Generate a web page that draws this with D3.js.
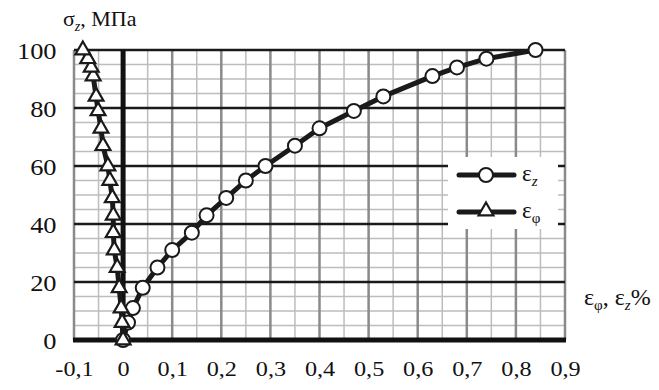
<!DOCTYPE html>
<html>
<head>
<meta charset="utf-8">
<script src="https://cdn.jsdelivr.net/npm/d3@7"></script>
<style>
  body { margin: 0; background: #fff; }
  svg text { font-family: 'Liberation Serif', 'Times New Roman', Times, 'DejaVu Serif', serif; fill: #111; }
</style>
</head>
<body>
<div id="chart"></div>
<script>
// stress levels, MPa (same for both curves)
const stress = [0, 6, 11, 18, 25, 31, 37, 43, 49, 55, 60, 67, 73, 79, 84, 91, 94, 97, 100];
// axial strain eps_z, %
const epsZ = [0, 0.01, 0.02, 0.04, 0.07, 0.10, 0.14, 0.17, 0.21, 0.25, 0.29, 0.35, 0.40, 0.47, 0.53, 0.63, 0.68, 0.74, 0.84];
// hoop strain eps_phi, %
const epsPhi = [0, -0.002, -0.004, -0.008, -0.012, -0.018, -0.020, -0.020, -0.022, -0.027, -0.031, -0.041, -0.045, -0.051, -0.055, -0.061, -0.065, -0.072, -0.082];

const xTicks = [-0.1, 0, 0.1, 0.2, 0.3, 0.4, 0.5, 0.6, 0.7, 0.8, 0.9];
const xTickLabels = ['-0,1', '0', '0,1', '0,2', '0,3', '0,4', '0,5', '0,6', '0,7', '0,8', '0,9'];
const yTicks = [0, 20, 40, 60, 80, 100];

const width = 659, height = 390;
const margin = { top: 50, right: 94, bottom: 50, left: 74 };
const serif = "'Liberation Serif', 'Times New Roman', Times, 'DejaVu Serif', serif";

const svg = d3.select('#chart').append('svg')
    .attr('width', width)
    .attr('height', height);

const x = d3.scaleLinear().domain([-0.1, 0.9]).range([margin.left, width - margin.right]);
const y = d3.scaleLinear().domain([0, 100]).range([height - margin.bottom, margin.top]);

const grid = svg.append('g');

// minor grid lines
grid.selectAll('.vminor')
    .data(d3.range(-0.05, 0.9, 0.1))
    .enter().append('line')
    .attr('x1', d => x(d)).attr('x2', d => x(d))
    .attr('y1', y(0)).attr('y2', y(100))
    .attr('stroke', '#bdbdbd').attr('stroke-width', 1.5);

grid.selectAll('.hminor')
    .data(d3.range(5, 100, 5).filter(d => d % 20 !== 0))
    .enter().append('line')
    .attr('x1', x(-0.1)).attr('x2', x(0.9))
    .attr('y1', d => y(d)).attr('y2', d => y(d))
    .attr('stroke', '#bdbdbd').attr('stroke-width', 1.5);

// major vertical lines
grid.selectAll('.vmajor')
    .data(xTicks.filter(d => d !== 0))
    .enter().append('line')
    .attr('x1', d => x(d)).attr('x2', d => x(d))
    .attr('y1', y(0)).attr('y2', y(100))
    .attr('stroke', '#8a8a8a').attr('stroke-width', 2.5);

// major horizontal lines
grid.selectAll('.hmajor')
    .data(yTicks.filter(d => d !== 0))
    .enter().append('line')
    .attr('x1', x(-0.1)).attr('x2', x(0.9))
    .attr('y1', d => y(d)).attr('y2', d => y(d))
    .attr('stroke', '#1a1a1a').attr('stroke-width', 2.5);

// zero axes
grid.append('line')
    .attr('x1', x(0)).attr('x2', x(0))
    .attr('y1', y(0)).attr('y2', y(100))
    .attr('stroke', '#111').attr('stroke-width', 5);
grid.append('line')
    .attr('x1', x(-0.1) - 1).attr('x2', x(0.9) + 1)
    .attr('y1', y(0)).attr('y2', y(0))
    .attr('stroke', '#111').attr('stroke-width', 5);

// axes (labels only)
const xAxis = svg.append('g')
    .attr('transform', 'translate(0,' + (y(0) + 20) + ')')
    .call(d3.axisBottom(x).tickValues(xTicks).tickSize(0).tickFormat((d, i) => xTickLabels[i]));
xAxis.attr('font-family', serif);
xAxis.select('.domain').remove();
xAxis.selectAll('text')
    .attr('font-size', 22).attr('dy', '0.6em')
    .attr('transform', 'scale(1.1,1)')
    .attr('fill', '#111');

const yAxis = svg.append('g')
    .attr('transform', 'translate(' + (x(-0.1) - 14) + ',0)')
    .call(d3.axisLeft(y).tickValues(yTicks).tickSize(0));
yAxis.attr('font-family', serif);
yAxis.select('.domain').remove();
yAxis.selectAll('text')
    .attr('font-size', 23).attr('dy', '0.35em')
    .attr('transform', 'scale(1.15,1)')
    .attr('fill', '#111');

// data lines
const line = d3.line().x(d => x(d[0])).y(d => y(d[1]));
const zData = epsZ.map((v, i) => [v, stress[i]]);
const phiData = epsPhi.map((v, i) => [v, stress[i]]);

svg.append('path').datum(zData)
    .attr('d', line).attr('fill', 'none')
    .attr('stroke', '#1a1a1a').attr('stroke-width', 5).attr('stroke-linejoin', 'round');
svg.selectAll('.zpt')
    .data(zData)
    .enter().append('circle')
    .attr('cx', d => x(d[0])).attr('cy', d => y(d[1]))
    .attr('r', 7)
    .attr('fill', '#fff').attr('stroke', '#1a1a1a').attr('stroke-width', 2);

const tri = d3.symbol().type(d3.symbolTriangle).size(95);
svg.append('path').datum(phiData)
    .attr('d', line).attr('fill', 'none')
    .attr('stroke', '#1a1a1a').attr('stroke-width', 5).attr('stroke-linejoin', 'round');
svg.selectAll('.ppt')
    .data(phiData)
    .enter().append('path')
    .attr('d', tri)
    .attr('transform', d => 'translate(' + x(d[0]) + ',' + y(d[1]) + ')')
    .attr('fill', '#fff').attr('stroke', '#1a1a1a').attr('stroke-width', 2.2);

// legend
const lg = svg.append('g').attr('transform', 'translate(448,157)').attr('font-family', serif);
lg.append('rect').attr('width', 110).attr('height', 72).attr('fill', '#fff');
[18, 55].forEach((ly, i) => {
    lg.append('line').attr('x1', 11).attr('x2', 66).attr('y1', ly).attr('y2', ly)
        .attr('stroke', '#1a1a1a').attr('stroke-width', 5).attr('stroke-linecap', 'round');
    if (i === 0) {
        lg.append('circle').attr('cx', 38).attr('cy', ly).attr('r', 7)
            .attr('fill', '#fff').attr('stroke', '#1a1a1a').attr('stroke-width', 2);
    } else {
        lg.append('path').attr('d', tri).attr('transform', 'translate(38,' + (ly - 1) + ')')
            .attr('fill', '#fff').attr('stroke', '#1a1a1a').attr('stroke-width', 2.2);
    }
    const t = lg.append('text').attr('x', 74).attr('y', ly + 6).attr('font-size', 23);
    t.append('tspan').text('ε');
    const sub = t.append('tspan').attr('dy', 5).attr('font-size', 15).text(i === 0 ? 'z' : 'φ');
    if (i === 0) sub.attr('font-style', 'italic');
});

// axis titles
const yt = svg.append('text').attr('x', 63).attr('y', 26).attr('font-size', 22).attr('font-family', serif);
yt.append('tspan').text('σ');
yt.append('tspan').attr('dy', 5).attr('font-size', 14).attr('font-style', 'italic').text('z');
yt.append('tspan').attr('dy', -5).text(', МПа');

const xt = svg.append('text').attr('x', 584).attr('y', 305).attr('font-size', 24).attr('font-family', serif);
xt.append('tspan').text('ε');
xt.append('tspan').attr('dy', 5).attr('font-size', 15).text('φ');
xt.append('tspan').attr('dy', -5).text(', ε');
xt.append('tspan').attr('dy', 5).attr('font-size', 15).attr('font-style', 'italic').text('z');
xt.append('tspan').attr('dy', -5).text('%');
</script>
</body>
</html>
